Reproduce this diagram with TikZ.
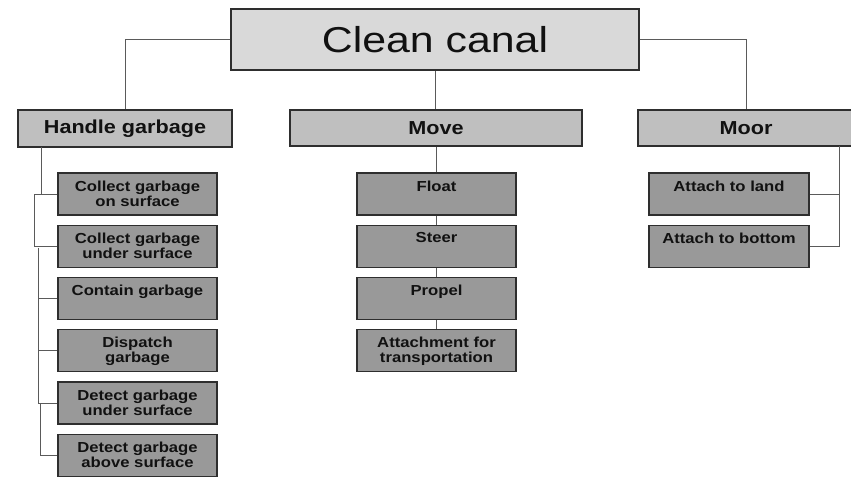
\documentclass[tikz,border=0pt]{standalone}
\usepackage{fontspec}
\setmainfont{Liberation Sans}[FakeStretch=1.15]
\newfontfamily\titlefont{Liberation Sans}[FakeStretch=1.19]

\definecolor{rootfill}{HTML}{D9D9D9}
\definecolor{groupfill}{HTML}{BFBFBF}
\definecolor{leaffill}{HTML}{999999}
\definecolor{boxline}{HTML}{2E2E2E}
\definecolor{connline}{HTML}{5A5A5A}
\definecolor{ink}{HTML}{111111}

\begin{document}
\begin{tikzpicture}[x=1pt,y=-1pt,
  box/.style={draw=boxline, line width=1.4pt, rectangle, inner sep=0pt},
  rootbox/.style={box, fill=rootfill, minimum width=408pt, minimum height=61pt,
    text=ink, font=\titlefont\fontsize{36}{40}\selectfont},
  groupbox/.style={box, fill=groupfill, minimum height=36pt, text=ink,
    font=\bfseries\fontsize{18.8}{22}\selectfont},
  leafbox/.style={box, fill=leaffill, minimum width=159pt, minimum height=42pt},
  leaftext/.style={anchor=north, inner sep=0pt, align=center, text=ink,
    font=\bfseries\fontsize{14.5}{15}\selectfont},
  conn/.style={draw=connline, line width=1pt}]

\useasboundingbox (0,0) rectangle (851,485);

% root and the three function groups
\node[rootbox] (root) at (435,39.5) {Clean canal};
\node[groupbox, minimum width=214pt, minimum height=37pt] (hg) at (125,128.5) {Handle garbage};
\node[groupbox, minimum width=292pt] (mv) at (436,128) {Move};
\node[groupbox, minimum width=216pt] (mr) at (746,128) {Moor};

% sub-functions of "Handle garbage"
\foreach \i/\y in {1/194,2/246.25,3/298.5,4/350.75,5/403,6/455.25}
  \node[leafbox] (h\i) at (137.5,\y) {};
\node[leaftext] (h1t) at ([yshift=-8pt]h1.north) {Collect garbage\\on surface};
\node[leaftext] (h2t) at ([yshift=-8pt]h2.north) {Collect garbage\\under surface};
\node[leaftext] (h3t) at ([yshift=-8pt]h3.north) {Contain garbage};
\node[leaftext] (h4t) at ([yshift=-8pt]h4.north) {Dispatch\\garbage};
\node[leaftext] (h5t) at ([yshift=-8pt]h5.north) {Detect garbage\\under surface};
\node[leaftext] (h6t) at ([yshift=-8pt]h6.north) {Detect garbage\\above surface};

% sub-functions of "Move"
\foreach \i/\y in {1/194,2/246.25,3/298.5,4/350.75}
  \node[leafbox] (m\i) at (436.5,\y) {};
\node[leaftext] (m1t) at ([yshift=-8pt]m1.north) {Float};
\node[leaftext] (m2t) at ([yshift=-8pt]m2.north) {Steer};
\node[leaftext] (m3t) at ([yshift=-8pt]m3.north) {Propel};
\node[leaftext] (m4t) at ([yshift=-8pt]m4.north) {Attachment for\\transportation};

% sub-functions of "Moor"
\node[leafbox, minimum width=160pt] (a1) at (729,194) {};
\node[leafbox, minimum width=160pt] (a2) at (729,246.25) {};
\node[leaftext] (a1t) at ([yshift=-8pt]a1.north) {Attach to land};
\node[leaftext] (a2t) at ([yshift=-8pt]a2.north) {Attach to bottom};

% root to groups
\draw[conn] (root.west) -| (hg.north);
\draw[conn] (root.south) -- (root.south |- mv.north);
\draw[conn] (root.east) -| (mr.north);

% Handle garbage tree
\coordinate (hgtap) at (41,147);
\draw[conn] (hgtap) -- (hgtap |- h1.west);
\draw[conn] ([xshift=-23pt]h1.west) -- (h1.west);
\draw[conn] ([xshift=-23pt]h1.west) -- ([xshift=-23pt]h2.west) -- (h2.west);
\draw[conn] ([xshift=-19pt,yshift=-2pt]h2.west) -- ([xshift=-19pt]h5.west) -- (h5.west);
\draw[conn] ([xshift=-19pt]h3.west) -- (h3.west);
\draw[conn] ([xshift=-19pt]h4.west) -- (h4.west);
\draw[conn] ([xshift=-17pt]h5.west) |- (h6.west);

% Move chain
\draw[conn] (mv.south -| m1.north) -- (m1.north);
\draw[conn] (m1.south) -- (m2.north);
\draw[conn] (m2.south) -- (m3.north);
\draw[conn] (m3.south) -- (m4.north);

% Moor tree
\coordinate (mrtap) at (839.5,146);
\draw[conn] (mrtap) |- (a1.east);
\draw[conn] (a1.east -| mrtap) -- (a2.east -| mrtap) -- (a2.east);

\end{tikzpicture}
\end{document}
